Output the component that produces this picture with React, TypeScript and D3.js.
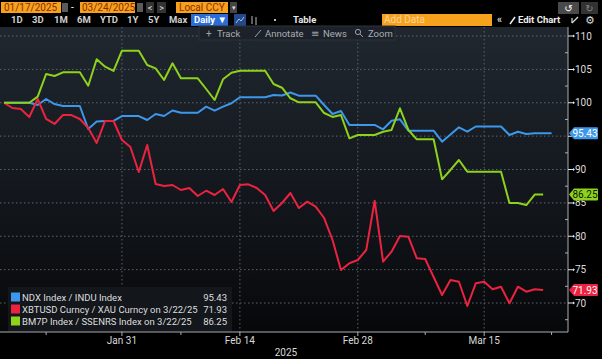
import React from "react";
import * as d3 from "d3";

const START = "2025-01-17";
const END = "2025-03-24";

// NDX Index / INDU Index (daily, calendar days from Jan 17)
const blueValues = [
  100, 100, 100, 100, 99.66, 100.56, 99.81, 99.51, 99.51, 99.51,
  96.07, 97.19, 97.27, 97.27, 98.01, 98.01, 98.01, 97.42, 98.31, 98.01,
  98.84, 98.51, 98.51, 98.51, 99.41, 98.81, 99.41, 99.92, 100.82, 100.82,
  100.82, 100.82, 101.16, 101.09, 101.54, 101.06, 101.06, 101.06, 99.66, 98.31,
  98.76, 96.67, 96.67, 96.67, 96.67, 96.02, 97.31, 97.52, 95.81, 95.81,
  95.81, 95.81, 94.17, 95.24, 96.32, 95.66, 96.44, 96.44, 96.44, 96.44,
  95.17, 95.66, 95.32, 95.43, 95.43, 95.43,
];
// XBTUSD Curncy / XAU Curncy
const redValues = [
  100, 99.21, 99.06, 97.87, 100.56, 97.57, 96.82, 98.16, 98.16, 97.57,
  96.22, 93.97, 97.27, 97.27, 94.42, 93.37, 89.63, 93.67, 87.83, 87.53,
  87.68, 86.93, 87.23, 86.03, 86.82, 86.18, 87.08, 85.13, 87.68, 87.78,
  87.23, 86.18, 83.78, 84.98, 86.48, 84.23, 85.18, 84.43, 82.73, 79.44,
  74.94, 75.95, 76.44, 77.94, 85.33, 76.19, 77.69, 80.04, 79.93, 76.7,
  76.59, 73.89, 71.2, 73.45, 73.19, 69.55, 72.95, 73.19, 72.05, 72.44,
  69.96, 72.44, 71.69, 72.05, 71.93,
];
// BM7P Index / SSENRS Index
const greenValues = [
  100, 100, 100, 100, 100.91, 104.31, 104.01, 104.56, 104.56, 104.56,
  102.55, 106.51, 105.4, 104.76, 107.8, 107.8, 107.8, 105.66, 105.16, 103.41,
  105.91, 103.66, 103.66, 103.66, 102.06, 100.41, 103.51, 104.5, 104.8, 104.8,
  104.8, 104.8, 102.81, 102.25, 100.67, 100.07, 100.07, 100.07, 98.46, 97.87,
  98.16, 94.67, 95.17, 95.17, 95.17, 95.66, 95.92, 99.17, 95.92, 94.52,
  94.52, 94.52, 88.53, 89.93, 91.42, 89.67, 89.67, 89.67, 89.67, 89.67,
  84.98, 84.98, 84.68, 86.25, 86.25,
];

const seriesNames = [
  "NDX Index / INDU Index",
  "XBTUSD Curncy / XAU Curncy on 3/22/25",
  "BM7P Index / SSENRS Index on 3/22/25",
];
const seriesColors = ["#3d97ea", "#ec2340", "#8dd21b"];
const seriesLabelText = ["#ffffff", "#ffffff", "#10140a"];

const yTicks = [70, 75, 80, 85, 90, 95, 100, 105, 110];
const yMinorStep = 2.5;
const xTickDates = ["2025-01-31", "2025-02-14", "2025-02-28", "2025-03-15"];
const xTickLabels = ["Jan 31", "Feb 14", "Feb 28", "Mar 15"];
const xMinorDates = ["2025-01-22", "2025-02-07", "2025-03-08", "2025-03-23"];
const yearLabel = "2025";

const periodButtons = ["1D", "3D", "1M", "6M", "YTD", "1Y", "5Y", "Max"];

const W = 602;
const H = 359;
const PLOT = { left: 0, right: 568, top: 27, bottom: 332 };
const FONT = "Roboto, 'Liberation Sans', Arial, sans-serif";

export default function App() {
  const parse = d3.utcParse("%Y-%m-%d");
  const start = parse(START)!;
  const end = parse(END)!;
  const dates = d3.utcDay.range(start, d3.utcDay.offset(start, blueValues.length));

  const x = d3.scaleUtc().domain([start, end]).range([4, 560]);
  const y = d3.scaleLinear().domain([70, 110]).range([303, 36]);

  const line = d3
    .line<number>()
    .x((_, i) => x(dates[i]))
    .y((v) => y(v));

  const allSeries = [blueValues, redValues, greenValues];
  const lastYs = allSeries.map((s) => y(s[s.length - 1]));
  const minorY = d3.range(67.5, 110.01, yMinorStep).filter((v) => v % 5 !== 0);
  // tick labels fully hidden behind a last-value box are not drawn
  const visibleTicks = yTicks.filter((t) => lastYs.every((ly) => Math.abs(ly - y(t)) > 5));

  const periodX = [11, 32, 54, 77, 100, 127, 148, 169];

  return (
    <svg
      width={W}
      height={H}
      style={{ position: "absolute", left: 0, top: 0, display: "block" }}
      fontFamily={FONT}
    >
      <defs>
        <linearGradient id="bg" x1="0" y1="0" x2="0" y2="1">
          <stop offset="0" stopColor="#20272f" />
          <stop offset="0.55" stopColor="#13171d" />
          <stop offset="1" stopColor="#07080a" />
        </linearGradient>
        <clipPath id="plotclip">
          <rect x={PLOT.left} y={PLOT.top} width={PLOT.right - PLOT.left} height={PLOT.bottom - PLOT.top} />
        </clipPath>
      </defs>
      <rect x={0} y={0} width={W} height={H} fill="#000" />
      <rect
        x={PLOT.left}
        y={PLOT.top}
        width={PLOT.right - PLOT.left}
        height={PLOT.bottom - PLOT.top}
        fill="url(#bg)"
      />

      {/* grid */}
      {yTicks.map((t) => (
        <line
          key={"gy" + t}
          x1={PLOT.left}
          x2={PLOT.right}
          y1={y(t)}
          y2={y(t)}
          stroke="#5d636b"
          strokeWidth={1}
          strokeDasharray="1.5,2.5"
        />
      ))}
      {xTickDates.map((d) => (
        <line
          key={"gx" + d}
          x1={x(parse(d)!)}
          x2={x(parse(d)!)}
          y1={PLOT.top}
          y2={PLOT.bottom}
          stroke="#5d636b"
          strokeWidth={1}
          strokeDasharray="1.5,2.5"
        />
      ))}

      {/* series */}
      <g clipPath="url(#plotclip)">
        {allSeries.map((vals, k) => (
          <path
            key={"s" + k}
            d={line(vals) || ""}
            fill="none"
            stroke={seriesColors[k]}
            strokeWidth={2}
            strokeLinejoin="round"
          />
        ))}
      </g>

      {/* axes */}
      <line x1={PLOT.left} x2={PLOT.right} y1={PLOT.bottom} y2={PLOT.bottom} stroke="#a9adb2" strokeWidth={1} />
      <line x1={PLOT.right} x2={PLOT.right} y1={PLOT.top} y2={PLOT.bottom} stroke="#a9adb2" strokeWidth={1} />
      {xTickDates.map((d, i) => (
        <g key={"xt" + d}>
          <line x1={x(parse(d)!)} x2={x(parse(d)!)} y1={PLOT.bottom} y2={PLOT.bottom + 4} stroke="#a9adb2" />
          <text x={x(parse(d)!)} y={344} fill="#d8d8d8" fontSize={10} textAnchor="middle">
            {xTickLabels[i]}
          </text>
        </g>
      ))}
      {xMinorDates.map((d) => (
        <line key={"xm" + d} x1={x(parse(d)!)} x2={x(parse(d)!)} y1={PLOT.bottom} y2={PLOT.bottom + 3} stroke="#a9adb2" />
      ))}
      <text x={286} y={356} fill="#d8d8d8" fontSize={10} textAnchor="middle">
        {yearLabel}
      </text>

      {minorY.map((t) => (
        <line key={"ym" + t} x1={PLOT.right - 3} x2={PLOT.right} y1={y(t)} y2={y(t)} stroke="#a9adb2" />
      ))}
      {yTicks.map((t) => (
        <path
          key={"ytk" + t}
          d={`M${PLOT.right},${y(t) - 0.5}L${PLOT.right + 5},${y(t) - 0.5}L${PLOT.right + 5},${y(t) - 1.5}L${PLOT.right + 7},${y(t)}L${PLOT.right + 5},${y(t) + 1.5}L${PLOT.right + 5},${y(t) + 0.5}L${PLOT.right},${y(t) + 0.5}Z`}
          fill="#e8e8e8"
        />
      ))}
      {visibleTicks.map((t) => (
        <text key={"yt" + t} x={PLOT.right + 7} y={y(t) + 3.6} fill="#dcdcdc" fontSize={10}>
          {t}
        </text>
      ))}

      {/* last value labels */}
      {allSeries.map((vals, k) => {
        const v = vals[vals.length - 1];
        const yy = lastYs[k];
        return (
          <g key={"lv" + k}>
            <path
              d={`M${PLOT.right + 1},${yy}L${PLOT.right + 6},${yy - 6}L${597},${yy - 6}Q598,${yy - 6} 598,${yy - 5}L598,${yy + 5}Q598,${yy + 6} 597,${yy + 6}L${PLOT.right + 6},${yy + 6}Z`}
              fill={seriesColors[k]}
            />
            <text x={585} y={yy + 3.6} fill={seriesLabelText[k]} fontSize={10} textAnchor="middle">
              {v.toFixed(2)}
            </text>
          </g>
        );
      })}

      {/* legend */}
      <rect x={8} y={287} width={224} height={44} fill="#14171c" opacity={0.95} />
      {seriesNames.map((name, k) => {
        const vals = allSeries[k];
        const cy = 297 + k * 12;
        return (
          <g key={"lg" + k}>
            <rect x={11} y={cy - 4.5} width={9} height={9} fill={seriesColors[k]} />
            <text x={22} y={cy + 3.5} fill="#dedede" fontSize={9.5}>
              {name}
            </text>
            <text x={227} y={cy + 3.5} fill="#dedede" fontSize={9.5} textAnchor="end">
              {vals[vals.length - 1].toFixed(2)}
            </text>
          </g>
        );
      })}

      {/* top toolbar row 1 */}
      <rect x={1} y={2} width={60} height={11} fill="#f6a21c" />
      <text x={4} y={11} fontSize={10} fill="#8a2b06">01/17/2025</text>
      <rect x={62} y={3} width={6} height={9} fill="#5a5a5a" />
      <text x={71} y={11} fontSize={10} fill="#ffffff">-</text>
      <rect x={80} y={2} width={55} height={11} fill="#f6a21c" />
      <text x={82} y={11} fontSize={10} fill="#8a2b06">03/24/2025</text>
      <rect x={137} y={3} width={6} height={9} fill="#5a5a5a" />
      <rect x={146} y={2} width={8} height={11} fill="#333" />
      <text x={150} y={11} fontSize={9} fill="#ddd" textAnchor="middle">{"<"}</text>
      <rect x={157} y={2} width={9} height={11} fill="#333" />
      <text x={161.5} y={11} fontSize={9} fill="#ddd" textAnchor="middle">{">"}</text>
      <rect x={176} y={2} width={52} height={11} fill="#f6a21c" />
      <text x={179} y={11} fontSize={10} fill="#8a2b06">Local CCY</text>
      <rect x={230} y={2} width={7} height={11} fill="#444" />
      <text x={233.5} y={10} fontSize={7} fill="#ddd" textAnchor="middle">▾</text>

      <rect x={558} y={2} width={21} height={12} fill="#4a4a4a" />
      <text x={568.5} y={11.5} fontSize={10} fill="#fff" textAnchor="middle" fontFamily="DejaVu Sans">↺</text>
      <rect x={581} y={2} width={17} height={12} fill="#333" />
      <text x={589.5} y={11.5} fontSize={10} fill="#888" textAnchor="middle" fontFamily="DejaVu Sans">↻</text>

      {/* row 2 */}
      {periodButtons.map((p, i) => (
        <text key={p} x={periodX[i]} y={23} fontSize={9.5} fill="#cfcfcf" fontWeight="bold">
          {p}
        </text>
      ))}
      <rect x={191} y={14} width={37} height={12} fill="#2a6cd8" />
      <text x={194} y={23} fontSize={9.5} fill="#fff" fontWeight="bold">Daily ▼</text>
      <rect x={234} y={14} width={12} height={12} fill="#234a86" />
      <polyline points="236,23 239,19 241,21 244,17" fill="none" stroke="#9cc4ff" strokeWidth={1} />
      <line x1={252} x2={252} y1={16} y2={24} stroke="#bbb" />
      <line x1={256} x2={256} y1={17} y2={25} stroke="#bbb" />
      <rect x={274} y={19} width={2} height={2} fill="#bbb" />
      <text x={293} y={23} fontSize={9.5} fill="#e6e6e6" fontWeight="bold">Table</text>
      <rect x={382} y={14} width={110} height={12} fill="#f6a21c" />
      <text x={384} y={23} fontSize={10} fill="#fbd59e">Add Data</text>
      <text x={497} y={23} fontSize={10} fill="#ddd" fontWeight="bold">«</text>
      <line x1={510} x2={515} y1={24} y2={17} stroke="#eee" strokeWidth={1.5} />
      <text x={518} y={23} fontSize={9.5} fill="#eee" fontWeight="bold">Edit Chart</text>
      <line x1={572} x2={578} y1={23} y2={17} stroke="#ddd" strokeWidth={1.2} />
      <line x1={572} x2={572} y1={23} y2={18} stroke="#ddd" strokeWidth={1.2} />
      <text x={590} y={24} fontSize={11} fill="#ddd" textAnchor="middle" fontFamily="DejaVu Sans">⚙</text>

      {/* row 3 floating toolbar */}
      <rect x={199} y={26} width={196} height={14} fill="#1d222a" stroke="#2e333b" />
      <text x={206} y={36.5} fontSize={10} fill="#9da2a8">+</text>
      <text x={217} y={36.5} fontSize={9.5} fill="#a9adb3">Track</text>
      <line x1={255} x2={261} y1={37} y2={30} stroke="#9da2a8" />
      <text x={265} y={36.5} fontSize={9.5} fill="#a9adb3">Annotate</text>
      <text x={311} y={36.5} fontSize={10} fill="#9da2a8" fontFamily="DejaVu Sans">≡</text>
      <text x={323} y={36.5} fontSize={9.5} fill="#a9adb3">News</text>
      <circle cx={358} cy={32} r={2.6} fill="none" stroke="#9da2a8" />
      <line x1={360} x2={363} y1={34} y2={37} stroke="#9da2a8" />
      <text x={368} y={36.5} fontSize={9.5} fill="#a9adb3">Zoom</text>
    </svg>
  );
}
